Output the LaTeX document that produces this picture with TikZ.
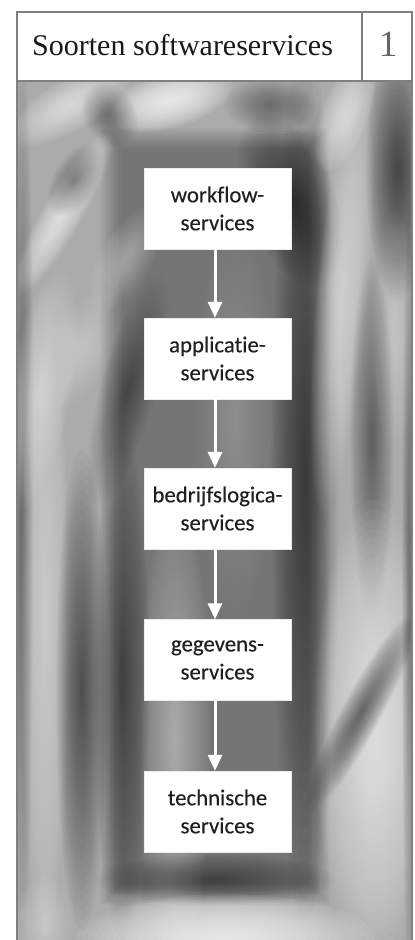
\documentclass[tikz,border=0pt]{standalone}
\usepackage{fontspec}
\setmainfont{Liberation Serif}
\newfontfamily\boxfont[Ligatures=NoCommon,FakeBold=0.25]{Carlito}
\usetikzlibrary{arrows.meta}
\newcommand\blob[7]{% cx cy rx ry angle color centre-opacity
  \pgfmathsetmacro\lop{1-(1-#7)^(1/24)}%
  \foreach \k in {0,...,23}{%
    \pgfmathsetmacro\sc{1-\k/24}%
    \fill[#6, fill opacity=\lop, rotate around={#5:(#1,#2)}] (#1,#2) ellipse [x radius=#3*\sc, y radius=#4*\sc];
  }}
\newcommand\softrect[6]{%
  \foreach \k in {0,...,13}{%
    \fill[#5, fill opacity=#6] ({#1+\k*1.6},{#2+\k*1.6}) rectangle ({#3-\k*1.6},{#4-\k*1.6});
  }}
\begin{document}
\begin{tikzpicture}[x=1pt,y=-1pt,
  frame/.style={draw=black!50, line width=2pt},
  svc/.style={fill=white, draw=black!8, minimum width=147pt, minimum height=81pt, inner sep=0pt, align=center, text=black!88, font=\boxfont\fontsize{22.8}{28}\selectfont},
  arr/.style={draw=white, line width=3pt, -{Triangle[length=16pt,width=14pt]}}]
\useasboundingbox (0,0) rectangle (415,940);
\fill[white] (0,0) rectangle (415,940);
% background photo
\begin{scope}
\clip (17,81) rectangle (412,940);
\fill[black!33] (17,81) rectangle (412,940);
% central darker rectangle
\softrect{100}{128}{330}{905}{black}{0.022}
% inside central
\blob{305}{480}{34}{440}{0}{black}{0.45}
\blob{290}{200}{45}{90}{20}{black}{0.45}
\blob{175}{740}{36}{240}{0}{white}{0.45}
\blob{122}{680}{28}{260}{0}{black}{0.4}
\blob{128}{390}{28}{120}{-15}{black}{0.35}
\blob{125}{260}{26}{60}{-30}{white}{0.4}
\blob{235}{420}{40}{200}{0}{white}{0.25}
\blob{215}{880}{120}{26}{0}{black}{0.4}
% top area
\blob{70}{105}{70}{26}{30}{white}{0.6}
\blob{170}{100}{65}{28}{15}{white}{0.8}
\blob{345}{115}{24}{60}{-20}{white}{0.6}
\blob{110}{115}{26}{34}{30}{black}{0.35}
\blob{270}{105}{46}{28}{0}{black}{0.3}
% left column
\blob{62}{215}{95}{20}{60}{white}{0.7}
\blob{75}{180}{40}{22}{60}{black}{0.35}
\blob{22}{500}{12}{470}{0}{black}{0.3}
\blob{45}{620}{24}{330}{0}{white}{0.5}
\blob{82}{690}{26}{240}{0}{black}{0.5}
\blob{40}{390}{32}{120}{-10}{white}{0.5}
\blob{80}{350}{34}{66}{-30}{white}{0.35}
% right column
\blob{398}{170}{32}{130}{0}{black}{0.55}
\blob{342}{300}{26}{210}{-5}{white}{0.55}
\blob{372}{440}{22}{180}{0}{black}{0.4}
\blob{395}{330}{22}{120}{0}{white}{0.35}
\blob{375}{730}{60}{230}{0}{white}{0.7}
\blob{362}{712}{110}{20}{62}{black}{0.5}
\blob{410}{600}{8}{420}{0}{black}{0.3}
% bottom
\blob{225}{940}{150}{46}{0}{white}{0.8}
\blob{45}{925}{30}{50}{0}{white}{0.45}
\end{scope}
% frame and header
\draw[frame] (17,945) -- (17,12) -- (412,12) -- (412,945);
\draw[frame] (17,81) -- (412,81);
\draw[frame] (362,12) -- (362,81);
\node[anchor=base west, inner sep=0pt, text=black!90, font=\fontsize{30}{36}\selectfont] (title) at (32,55) {Soorten softwareservices};
\node[anchor=base, inner sep=0pt, text=black!60, font=\fontsize{37}{44}\selectfont] (num) at (388,56.5) {1};
% boxes
\node[svc] (w) at (217.5,208.5) {workflow-\\services};
\node[svc] (a) at (217.5,358.5) {applicatie-\\services};
\node[svc] (b) at (217.5,508.5) {bedrijfslogica-\\services};
\node[svc] (g) at (217.5,660) {gegevens-\\services};
\node[svc] (t) at (217.5,811.5) {technische\\services};
\draw[arr] ([xshift=-2.5pt]w.south) -- ([xshift=-2.5pt]a.north);
\draw[arr] ([xshift=-2.5pt]a.south) -- ([xshift=-2.5pt]b.north);
\draw[arr] ([xshift=-2.5pt]b.south) -- ([xshift=-2.5pt]g.north);
\draw[arr] ([xshift=-2.5pt]g.south) -- ([xshift=-2.5pt]t.north);
\end{tikzpicture}
\end{document}
